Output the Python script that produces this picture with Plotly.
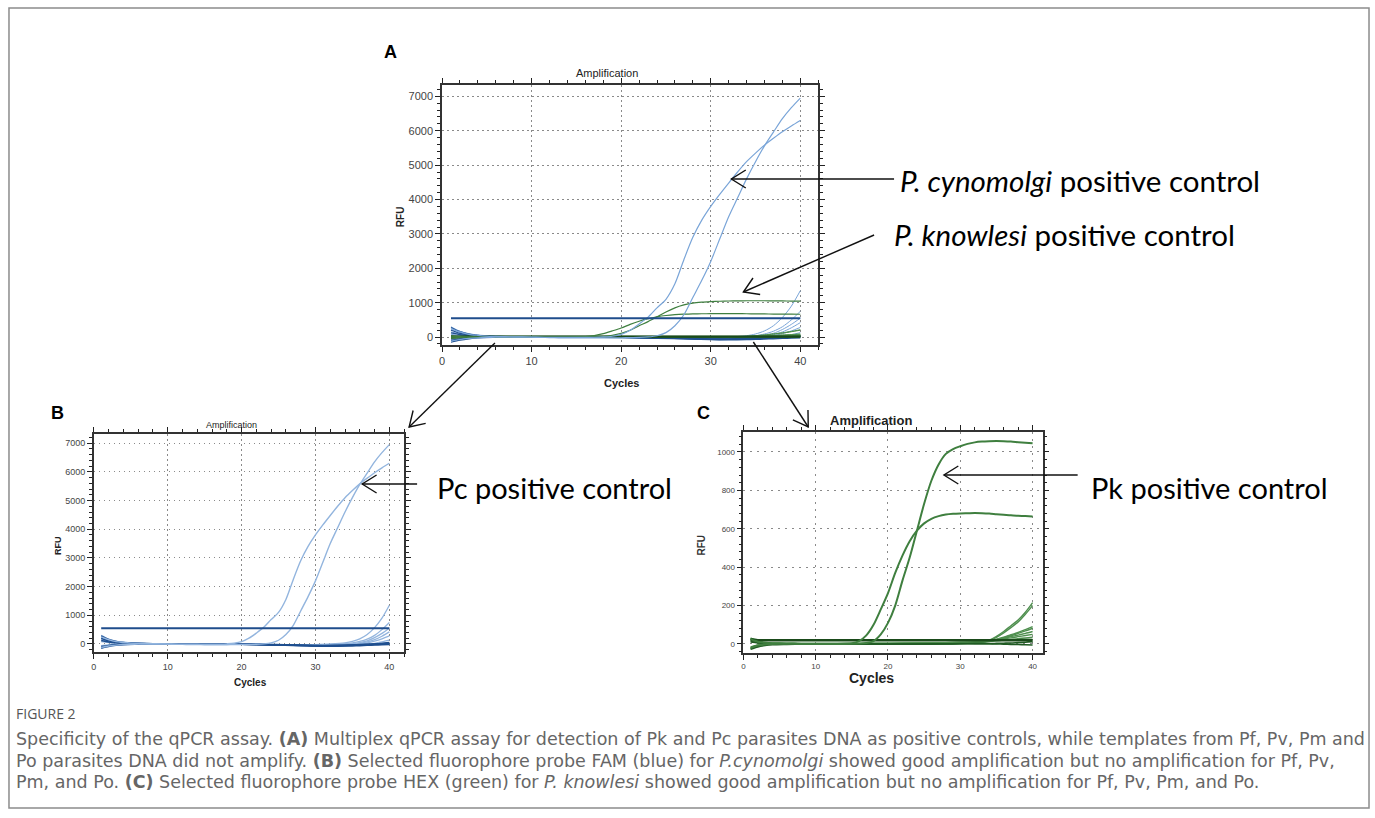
import math
import plotly.graph_objects as go

W, H = 1375, 818
def px(x): return x / W
def py(y): return 1 - y / H

# ---------------- data ----------------
cycles = list(range(1, 41))
base_cycles = [1, 2, 3, 4, 6, 8, 12, 16, 20, 24, 28, 30, 32, 34, 35, 36, 37, 38, 39, 40]
threshold_cycles = [1, 40]
fam_threshold = 550
hex_threshold = 20

# P. cynomolgi (FAM, blue) positive controls
pc_early = [250, 150, 80, 50, 30, 20, 12, 8, 5, 0, -5, -10, -10, -10, -10, -10, -5, 5, 25, 80,
            200, 380, 580, 850, 1100, 1550, 2250, 2900, 3400, 3800, 4150, 4480, 4800, 5100, 5350,
            5580, 5780, 5970, 6140, 6300]
pc_late = [-120, -70, -40, -20, -10, -5, 0, 0, 0, -5, -10, -15, -20, -20, -25, -25, -25, -25, -20, -20,
           -15, -10, 5, 40, 130, 330, 650, 1150, 1650, 2200, 2850, 3500, 4050, 4600, 5100,
           5560, 5960, 6350, 6670, 6950]

# other FAM wells (Pf, Pv, Pm, Po, NTC): late risers and flat ones
fam_late = [
    [150, 90, 50, 30, 15, 5, 0, -5, -10, -20, -30, -20, 0, 40, 90, 180, 330, 570, 900, 1350],
    [-100, -50, -20, -10, 0, 5, 0, 0, -5, -15, -30, -30, -20, 10, 40, 90, 170, 300, 500, 750],
    [220, 130, 70, 40, 20, 10, 0, -5, -10, -20, -40, -45, -35, -10, 15, 50, 110, 220, 370, 550],
    [-60, -30, -10, 0, 5, 5, 0, -5, -10, -25, -45, -50, -45, -25, -5, 20, 70, 150, 270, 420],
    [80, 50, 30, 15, 10, 5, 0, 0, -5, -20, -40, -50, -50, -35, -20, 0, 40, 100, 180, 280],
    [300, 170, 100, 60, 30, 15, 5, 0, -10, -30, -55, -65, -65, -55, -45, -30, -10, 20, 70, 130],
]
fam_flat = [
    [-150, -90, -50, -25, -10, 0, 0, 0, -10, -30, -55, -70, -70, -60, -50, -40, -30, -20, -10, 0],
    [120, 70, 40, 25, 10, 5, 0, -5, -10, -25, -45, -55, -55, -45, -35, -25, -15, 0, 20, 50],
    [200, 110, 60, 30, 15, 5, 0, -5, -15, -35, -60, -75, -80, -75, -70, -60, -50, -40, -30, -20],
    [-90, -50, -25, -10, 0, 0, 0, -5, -10, -25, -45, -60, -60, -50, -40, -30, -20, -10, 0, 10],
    [280, 160, 90, 50, 25, 10, 0, 0, -5, -20, -40, -50, -50, -40, -30, -20, -10, 0, 15, 30],
]

# P. knowlesi (HEX, green) positive controls
pk_high = [25, 12, 6, 3, 2, 1, 1, 0, 0, 0, 0, 0, 0, 0, 1, 2, 5, 15, 50, 110,
           200, 330, 450, 590, 730, 850, 935, 990, 1015, 1030, 1042, 1050, 1054, 1056, 1057,
           1056, 1054, 1051, 1048, 1045]
pk_low = [-20, -8, -3, 0, 1, 1, 1, 1, 1, 1, 1, 1, 1, 2, 4, 15, 45, 100, 180, 265,
          370, 460, 535, 590, 628, 652, 666, 674, 678, 680, 681, 682, 681, 679, 676,
          673, 670, 668, 666, 664]

hex_late = [
    [30, 15, 8, 5, 3, 2, 1, 0, 0, 0, 0, 2, 5, 20, 40, 65, 95, 125, 165, 215],
    [-25, -10, -3, 0, 2, 2, 1, 0, 0, 0, 2, 4, 6, 18, 35, 58, 85, 115, 155, 200],
    [20, 10, 5, 3, 2, 1, 0, 0, 0, 1, 3, 5, 8, 15, 25, 35, 48, 60, 75, 90],
    [-15, -5, 0, 2, 2, 2, 1, 1, 2, 3, 5, 6, 8, 14, 22, 32, 43, 55, 68, 82],
    [25, 12, 6, 4, 3, 2, 2, 2, 3, 4, 6, 8, 10, 16, 22, 30, 38, 46, 55, 65],
    [-20, -8, -2, 1, 2, 2, 2, 2, 3, 5, 7, 9, 11, 15, 20, 26, 32, 38, 44, 50],
    [15, 8, 4, 3, 3, 3, 3, 3, 4, 5, 7, 8, 10, 13, 16, 20, 24, 28, 31, 35],
]
hex_flat = [
    [-28, -15, -8, -4, -2, -1, 0, 0, 0, 0, 1, 2, 2, 1, 0, -1, -2, -3, -4, -5],
    [10, 5, 2, 1, 0, 0, 0, 0, 0, 0, 0, 1, 2, 2, 3, 4, 5, 7, 9, 12],
    [28, 22, 20, 20, 20, 20, 20, 20, 20, 20, 20, 20, 20, 20, 20, 21, 22, 22, 23, 23],
]

x_ticks = [0, 10, 20, 30, 40]
fam_y_ticks = [0, 1000, 2000, 3000, 4000, 5000, 6000, 7000]
hex_y_ticks = [0, 200, 400, 600, 800, 1000]

# ---------------- figure ----------------
fig = go.Figure()

BLUE_AMP_A = "#7aa5d8"
BLUE_AMP_B = "#93b5de"
BLUE_BASE = "#1f4f8f"
BLUE_THR = "#1f4d8c"
GREEN_AMP = "#3f7f3f"
GREEN_LATE = "#4f8f4f"
GREEN_BASE = "#1f5a22"
GREEN_THR = "#1a4a1a"

def line(x, y, xa, ya, color, width, shape="spline"):
    fig.add_trace(go.Scatter(x=x, y=y, xaxis=xa, yaxis=ya, mode="lines",
                             line=dict(color=color, width=width, shape=shape, smoothing=0.8),
                             hoverinfo="skip", showlegend=False))

# Panel A (overlay)
for c in fam_late:
    line(base_cycles, c, "x", "y", BLUE_AMP_A, 1)
for c in fam_flat:
    line(base_cycles, c, "x", "y", BLUE_BASE, 1.2)
for c in hex_late:
    line(base_cycles, c, "x", "y", GREEN_LATE, 1)
for c in hex_flat:
    line(base_cycles, c, "x", "y", GREEN_BASE, 1.2)
line(threshold_cycles, [hex_threshold] * 2, "x", "y", GREEN_THR, 2, "linear")
line(cycles, pk_high, "x", "y", GREEN_AMP, 1.2)
line(cycles, pk_low, "x", "y", GREEN_AMP, 1.2)
line(cycles, pc_early, "x", "y", BLUE_AMP_A, 1.2)
line(cycles, pc_late, "x", "y", BLUE_AMP_A, 1.2)
line(threshold_cycles, [fam_threshold] * 2, "x", "y", BLUE_THR, 2, "linear")

# Panel B (FAM)
for c in fam_late:
    line(base_cycles, c, "x2", "y2", BLUE_AMP_B, 1.3)
for c in fam_flat:
    line(base_cycles, c, "x2", "y2", BLUE_BASE, 1.4)
line(cycles, pc_early, "x2", "y2", BLUE_AMP_B, 1.4)
line(cycles, pc_late, "x2", "y2", BLUE_AMP_B, 1.4)
line(threshold_cycles, [fam_threshold] * 2, "x2", "y2", BLUE_THR, 2, "linear")

# Panel C (HEX)
for c in hex_late:
    line(base_cycles, c, "x3", "y3", GREEN_LATE, 1.4)
for c in hex_flat:
    line(base_cycles, c, "x3", "y3", GREEN_BASE, 1.6)
line(threshold_cycles, [hex_threshold] * 2, "x3", "y3", GREEN_THR, 2.5, "linear")
line(cycles, pk_high, "x3", "y3", GREEN_AMP, 2)
line(cycles, pk_low, "x3", "y3", GREEN_AMP, 2)

FONT = "Liberation Sans, Arial, sans-serif"

def xaxis(dom, rng, fsize, dash):
    return dict(domain=[px(dom[0]), px(dom[1])], range=rng, tickvals=x_ticks,
                ticks="outside", ticklen=5, tickcolor="#222", tickwidth=1.2,
                minor=dict(dtick=2, ticks="outside", ticklen=3, tickcolor="#222", showgrid=False),
                showline=True, linecolor="#333", linewidth=1.5, mirror="ticks",
                showgrid=True, gridcolor="#8a8a8a", gridwidth=1, griddash=dash,
                zeroline=False, tickfont=dict(family=FONT, size=fsize, color="#444"),
                fixedrange=True)

def yaxis(dom, rng, tv, mdt, fsize, dash, anchor):
    return dict(domain=[py(dom[1]), py(dom[0])], range=rng, tickvals=tv, anchor=anchor,
                ticks="outside", ticklen=5, tickcolor="#222", tickwidth=1.2,
                minor=dict(dtick=mdt, ticks="outside", ticklen=3, tickcolor="#222", showgrid=False),
                showline=True, linecolor="#333", linewidth=1.5, mirror="ticks",
                showgrid=True, gridcolor="#8a8a8a", gridwidth=1, griddash=dash,
                zeroline=False, tickfont=dict(family=FONT, size=fsize, color="#444"),
                fixedrange=True)

fig.update_layout(
    width=W, height=H, autosize=False,
    margin=dict(l=0, r=0, t=0, b=0),
    paper_bgcolor="white", plot_bgcolor="white", showlegend=False,
    xaxis=dict(**xaxis((440, 817), [0, 42], 11, "1.5px,3.5px"), anchor="y"),
    yaxis=yaxis((85, 345), [-230, 7330], fam_y_ticks, 200, 11, "1.5px,3.5px", "x"),
    xaxis2=dict(**xaxis((91, 402), [0, 42], 9, "1.5px,3.5px"), anchor="y2"),
    yaxis2=yaxis((434, 652), [-280, 7320], fam_y_ticks, 200, 9, "1.5px,3.5px", "x2"),
    xaxis3=dict(**xaxis((742, 1042), [0, 41.4], 8, "2px,5px"), anchor="y3"),
    yaxis3=yaxis((432, 653), [-47, 1104], hex_y_ticks, 40, 8, "2px,5px", "x3"),
)

ann = []
def text(x, y, s, size, color="#000", bold=False, family=FONT, xanchor="center", angle=0):
    ann.append(dict(x=px(x), y=py(y), xref="paper", yref="paper", showarrow=False,
                    text=f"<b>{s}</b>" if bold else s, textangle=angle,
                    font=dict(family=family, size=size, color=color),
                    xanchor=xanchor, yanchor="middle"))

shapes = []
def arrow(head, tail, L=17, ang=32, width=1.4):
    shapes.append(dict(type="line", xref="paper", yref="paper",
                       x0=px(tail[0]), y0=py(tail[1]), x1=px(head[0]), y1=py(head[1]),
                       line=dict(color="#111", width=width)))
    dx, dy = tail[0] - head[0], tail[1] - head[1]
    n = math.hypot(dx, dy)
    ux, uy = dx / n, dy / n
    pts = []
    for s in (1, -1):
        a = math.radians(ang * s)
        rx = ux * math.cos(a) - uy * math.sin(a)
        ry = ux * math.sin(a) + uy * math.cos(a)
        pts.append((head[0] + L * rx, head[1] + L * ry))
    path = (f"M {px(pts[0][0])},{py(pts[0][1])} L {px(head[0])},{py(head[1])} "
            f"L {px(pts[1][0])},{py(pts[1][1])}")
    shapes.append(dict(type="path", xref="paper", yref="paper", path=path,
                       line=dict(color="#111", width=width)))

# panel letters
text(388, 52, "A", 18, bold=True)
text(55, 413, "B", 18, bold=True)
text(702, 413, "C", 18, bold=True)

# chart titles / axis titles
text(605, 73, "Amplification", 11, "#222")
text(398, 217, "RFU", 10, "#222", bold=True, angle=-90)
text(620, 383, "Cycles", 11, "#222", bold=True)

text(229, 425, "Amplification", 9, "#222")
text(55, 545, "RFU", 9, "#222", bold=True, angle=-90)
text(248, 682, "Cycles", 10, "#222", bold=True)

text(870, 420, "Amplification", 13, "#222", bold=True)
text(700, 545, "RFU", 10, "#333", bold=True, angle=-90)
text(870, 678, "Cycles", 14, "#222", bold=True)

# callouts
BIG = "Lato, Open Sans, sans-serif"
text(897, 180, "<i>P. cynomolgi</i> positive control", 29.5, family=BIG, xanchor="left")
text(891, 235, "<i>P. knowlesi</i> positive control", 29.5, family=BIG, xanchor="left")
text(433, 487, "Pc positive control", 29, family=BIG, xanchor="left")
text(1088, 487, "Pk positive control", 29, family=BIG, xanchor="left")

arrow((730, 179), (893, 179))
arrow((742, 292), (873, 235))
arrow((407, 427), (493, 343))
arrow((807, 427), (752, 342))
arrow((360, 484), (415, 484))
arrow((943, 475), (1077, 475))

# caption
CAP = "Open Sans, sans-serif"
CAP_BODY = "DejaVu Sans, sans-serif"
text(11, 713, "FIGURE 2", 14, "#555", family=CAP, xanchor="left")
cap_lines = [
    "Specificity of the qPCR assay. <b>(A)</b> Multiplex qPCR assay for detection of Pk and Pc parasites DNA as positive controls, while templates from Pf, Pv, Pm and",
    "Po parasites DNA did not amplify. <b>(B)</b> Selected fluorophore probe FAM (blue) for <i>P.cynomolgi</i> showed good amplification but no amplification for Pf, Pv,",
    "Pm, and Po. <b>(C)</b> Selected fluorophore probe HEX (green) for <i>P. knowlesi</i> showed good amplification but no amplification for Pf, Pv, Pm, and Po.",
]
for i, s in enumerate(cap_lines):
    text(11, 739 + 21.5 * i, s, 17.5, "#666", family=CAP_BODY, xanchor="left")

shapes.append(dict(type="rect", xref="paper", yref="paper",
                   x0=px(6), x1=px(1369), y0=py(808), y1=py(8),
                   line=dict(color="#8c8c8c", width=1.5), fillcolor="rgba(0,0,0,0)"))

fig.update_layout(annotations=ann, shapes=shapes)

fig.write_html("out.html", config={"displayModeBar": False},
               post_script="document.body.style.margin='0px';document.body.style.overflow='hidden';")
